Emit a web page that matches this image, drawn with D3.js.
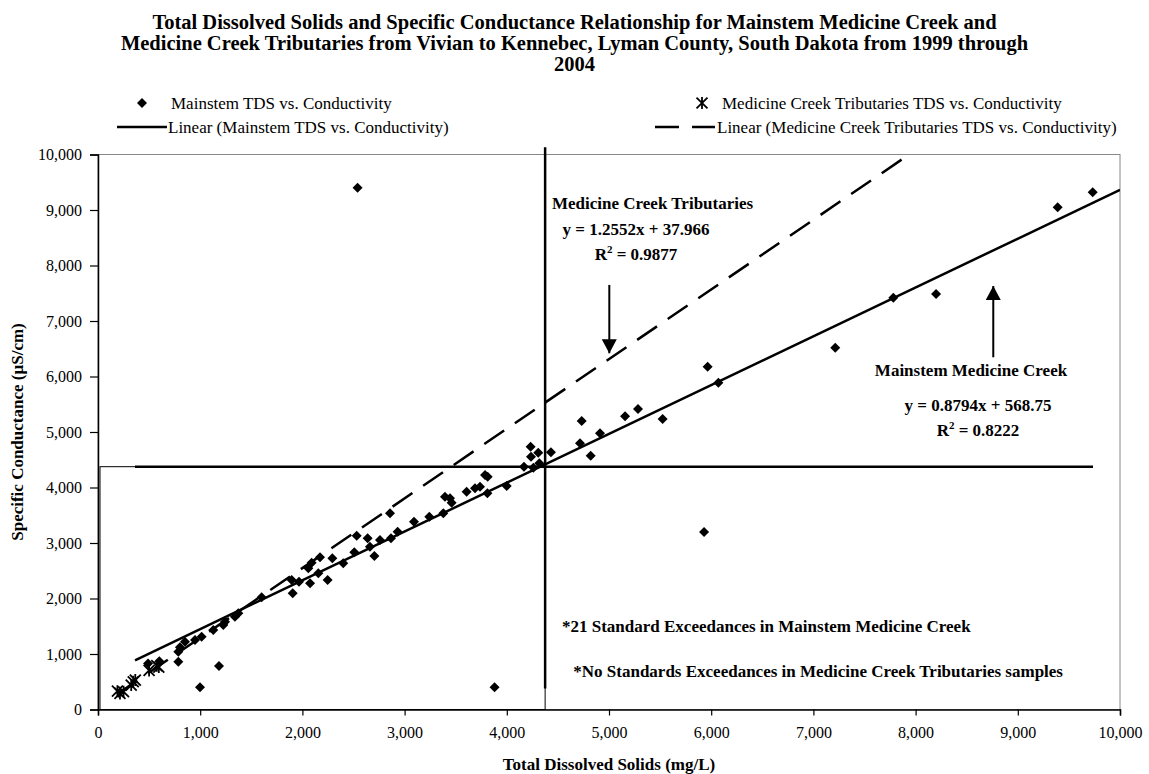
<!DOCTYPE html>
<html>
<head>
<meta charset="utf-8">
<title>TDS vs Specific Conductance</title>
<style>
body { margin: 0; background: #fff; }
svg text { font-family: "Liberation Serif", "Times New Roman", serif; fill: #000; }
.tick text { font-size: 16px; }
.bold { font-weight: bold; }
</style>
</head>
<body>
<svg id="chart" width="1149" height="774"></svg>
<script src="https://d3js.org/d3.v7.min.js"></script>
<script>
// values (TDS mg/L, conductance uS/cm)
var mainTDS = [490, 600, 786, 786, 802, 851, 949, 1014, 998, 1128, 1184, 1226, 1243, 1340, 1373,
  1601, 1895, 1905, 1967, 2058, 2075, 2090, 2156, 2172, 2247, 2293, 2400, 2508, 2531, 2540,
  2638, 2661, 2704, 2759, 2857, 2867, 2932, 3092, 3242, 3379, 3395, 3444, 3460, 3607, 3689,
  3738, 3787, 3813, 3810, 3880, 3999, 4168, 4233, 4237, 4260, 4308, 4318, 4432, 4716, 4733,
  4821, 4912, 5157, 5284, 5525, 5930, 5965, 6070, 7214, 7782, 8200, 9390, 9733];
var mainSC = [830, 870, 862, 1042, 1120, 1222, 1252, 1312, 400, 1432, 784, 1523, 1582, 1672, 1733,
  2021, 2333, 2093, 2303, 2544, 2274, 2645, 2454, 2742, 2333, 2724, 2634, 2832, 3132, 9400,
  3085, 2934, 2766, 3054, 3535, 3085, 3204, 3384, 3474, 3535, 3835, 3805, 3727, 3925, 3985,
  4015, 4225, 4195, 3895, 400, 4027, 4375, 4735, 4555, 4357, 4627, 4436, 4634, 4796, 5198,
  4573, 4976, 5283, 5414, 5234, 3200, 6177, 5889, 6519, 7420, 7486, 9048, 9319];
var tribTDS = [190, 215, 250, 325, 345, 365, 500, 575, 595];
var tribSC = [330, 290, 320, 440, 500, 530, 705, 790, 765];

var xTicks = [0, 1000, 2000, 3000, 4000, 5000, 6000, 7000, 8000, 9000, 10000];
var yTicks = [0, 1000, 2000, 3000, 4000, 5000, 6000, 7000, 8000, 9000, 10000];

// trend lines as given on the chart
var mainFit = { slope: 0.8794, intercept: 568.75, from: 362, to: 10000 };
var tribFit = { slope: 1.2552, intercept: 37.966, from: 190, to: 8200 };
var standard = 4375;

var titleLines = [
  "Total Dissolved Solids and Specific Conductance Relationship for Mainstem Medicine Creek and",
  "Medicine Creek Tributaries from Vivian to Kennebec, Lyman County, South Dakota from 1999 through",
  "2004"
];

var svg = d3.select("#chart");
var plotL = 98, plotR = 1120, plotT = 154.5, plotB = 709.5;

var x = d3.scaleLinear().domain([0, 10000]).range([plotL, plotR]);
var y = d3.scaleLinear().domain([0, 10000]).range([plotB, plotT]);

var defs = svg.append("defs");
defs.append("clipPath").attr("id", "plotclip")
  .append("rect").attr("x", plotL).attr("y", plotT)
  .attr("width", plotR - plotL).attr("height", plotB - plotT);
defs.append("marker")
  .attr("id", "head")
  .attr("markerUnits", "userSpaceOnUse")
  .attr("viewBox", "0 0 14 15")
  .attr("refX", 14).attr("refY", 7.5)
  .attr("markerWidth", 14).attr("markerHeight", 15)
  .attr("orient", "auto")
  .append("path").attr("d", "M0,0L14,7.5L0,15Z").attr("fill", "#000");

// title
svg.append("g").selectAll("text").data(titleLines).enter().append("text")
  .attr("class", "bold")
  .attr("x", 574.5)
  .attr("y", function (d, i) { return 29 + i * 21; })
  .attr("text-anchor", "middle")
  .style("font-size", "20.5px")
  .text(function (d) { return d; });

// plot frame
svg.append("rect")
  .attr("x", plotL).attr("y", plotT)
  .attr("width", plotR - plotL).attr("height", plotB - plotT)
  .attr("fill", "none").attr("stroke", "#888").attr("stroke-width", 1);

// axes
var xAxis = svg.append("g")
  .attr("transform", "translate(0," + plotB + ")")
  .call(d3.axisBottom(x).tickValues(xTicks).tickFormat(d3.format(",")).tickSize(6).tickPadding(11));
var yAxis = svg.append("g")
  .attr("transform", "translate(" + plotL + ",0)")
  .call(d3.axisLeft(y).tickValues(yTicks).tickFormat(d3.format(",")).tickSize(8).tickPadding(8));
[xAxis, yAxis].forEach(function (a) {
  a.select(".domain").attr("stroke", "#000").attr("stroke-width", 1.5);
  a.selectAll(".tick line").attr("stroke", "#000").attr("stroke-width", 1.2);
});

// standard exceedance box and lines
svg.append("rect")
  .attr("x", x(0) + 2).attr("y", y(standard))
  .attr("width", x(standard) - x(0) - 2).attr("height", y(0) - y(standard))
  .attr("fill", "none").attr("stroke", "#000").attr("stroke-width", 1);
svg.append("line")
  .attr("x1", x(362)).attr("x2", x(9736))
  .attr("y1", y(standard)).attr("y2", y(standard))
  .attr("stroke", "#000").attr("stroke-width", 2.5);
svg.append("line")
  .attr("x1", x(standard)).attr("x2", x(standard))
  .attr("y1", y(380)).attr("y2", y(10130))
  .attr("stroke", "#000").attr("stroke-width", 2.5);

// trend lines
var plot = svg.append("g").attr("clip-path", "url(#plotclip)");
function fitLine(f) {
  return [[f.from, f.slope * f.from + f.intercept], [f.to, f.slope * f.to + f.intercept]];
}
var line = d3.line().x(function (d) { return x(d[0]); }).y(function (d) { return y(d[1]); });
plot.append("path").attr("d", line(fitLine(mainFit)))
  .attr("fill", "none").attr("stroke", "#000").attr("stroke-width", 2.5);
plot.append("path").attr("d", line(fitLine(tribFit)))
  .attr("fill", "none").attr("stroke", "#000").attr("stroke-width", 2.5)
  .attr("stroke-dasharray", "24,13");

// markers
var diamond = d3.symbol().type(d3.symbolSquare).size(50);
var starType = {
  draw: function (ctx, size) {
    var r = Math.sqrt(size) / 2;
    ctx.moveTo(-r, -r); ctx.lineTo(r, r);
    ctx.moveTo(-r, r); ctx.lineTo(r, -r);
    ctx.moveTo(0, -r * 1.1); ctx.lineTo(0, r * 1.1);
  }
};
var star = d3.symbol().type(starType).size(120);

svg.append("g").selectAll("path").data(d3.range(mainTDS.length)).enter().append("path")
  .attr("d", diamond)
  .attr("transform", function (i) {
    return "translate(" + x(mainTDS[i]) + "," + y(mainSC[i]) + ") rotate(45)";
  })
  .attr("fill", "#000");

svg.append("g").selectAll("path").data(d3.range(tribTDS.length)).enter().append("path")
  .attr("d", star)
  .attr("transform", function (i) {
    return "translate(" + x(tribTDS[i]) + "," + y(tribSC[i]) + ")";
  })
  .attr("fill", "none").attr("stroke", "#000").attr("stroke-width", 1.8);

// axis titles
svg.append("text").attr("class", "bold")
  .attr("x", (plotL + plotR) / 2).attr("y", 770)
  .attr("text-anchor", "middle").style("font-size", "17px")
  .text("Total Dissolved Solids (mg/L)");
svg.append("text").attr("class", "bold")
  .attr("transform", "translate(23," + (plotT + plotB) / 2 + ") rotate(-90)")
  .attr("text-anchor", "middle").style("font-size", "17px")
  .text("Specific Conductance (\u00b5S/cm)");

// legend
var legend = svg.append("g").style("font-size", "17px");
legend.append("path").attr("d", diamond).attr("transform", "translate(142,103) rotate(45)").attr("fill", "#000");
legend.append("text").attr("x", 171).attr("y", 109).text("Mainstem TDS vs. Conductivity");
legend.append("line").attr("x1", 117).attr("x2", 167).attr("y1", 127).attr("y2", 127)
  .attr("stroke", "#000").attr("stroke-width", 2.5);
legend.append("text").attr("x", 168).attr("y", 133).text("Linear (Mainstem TDS vs. Conductivity)");
legend.append("path").attr("d", star).attr("transform", "translate(702,103)")
  .attr("fill", "none").attr("stroke", "#000").attr("stroke-width", 1.8);
legend.append("text").attr("x", 722).attr("y", 109).text("Medicine Creek Tributaries TDS vs. Conductivity");
legend.append("line").attr("x1", 655).attr("x2", 715).attr("y1", 127).attr("y2", 127)
  .attr("stroke", "#000").attr("stroke-width", 2.5).attr("stroke-dasharray", "24,13");
legend.append("text").attr("x", 717).attr("y", 133).text("Linear (Medicine Creek Tributaries TDS vs. Conductivity)");

// annotations
var notes = svg.append("g").attr("class", "bold").style("font-size", "17px");
notes.append("text").attr("x", 552).attr("y", 209).text("Medicine Creek Tributaries");
notes.append("text").attr("x", 636).attr("y", 235).attr("text-anchor", "middle").text("y = 1.2552x + 37.966");
var r1 = notes.append("text").attr("x", 636).attr("y", 260).attr("text-anchor", "middle");
r1.append("tspan").text("R");
r1.append("tspan").attr("dy", -7).style("font-size", "11px").text("2");
r1.append("tspan").attr("dy", 7).text(" = 0.9877");

notes.append("text").attr("x", 971).attr("y", 376).attr("text-anchor", "middle").text("Mainstem Medicine Creek");
notes.append("text").attr("x", 978).attr("y", 411).attr("text-anchor", "middle").text("y = 0.8794x + 568.75");
var r2 = notes.append("text").attr("x", 978).attr("y", 436).attr("text-anchor", "middle");
r2.append("tspan").text("R");
r2.append("tspan").attr("dy", -7).style("font-size", "11px").text("2");
r2.append("tspan").attr("dy", 7).text(" = 0.8222");

notes.append("text").attr("x", 562).attr("y", 632).text("*21 Standard Exceedances in Mainstem Medicine Creek");
notes.append("text").attr("x", 1063).attr("y", 677).attr("text-anchor", "end")
  .text("*No Standards Exceedances in Medicine Creek Tributaries samples");

// arrows
svg.append("line")
  .attr("x1", x(5003)).attr("x2", x(5003)).attr("y1", y(7650)).attr("y2", y(6418))
  .attr("stroke", "#000").attr("stroke-width", 2).attr("marker-end", "url(#head)");
svg.append("line")
  .attr("x1", x(8760)).attr("x2", x(8760)).attr("y1", y(6346)).attr("y2", y(7631))
  .attr("stroke", "#000").attr("stroke-width", 2).attr("marker-end", "url(#head)");
</script>
</body>
</html>
